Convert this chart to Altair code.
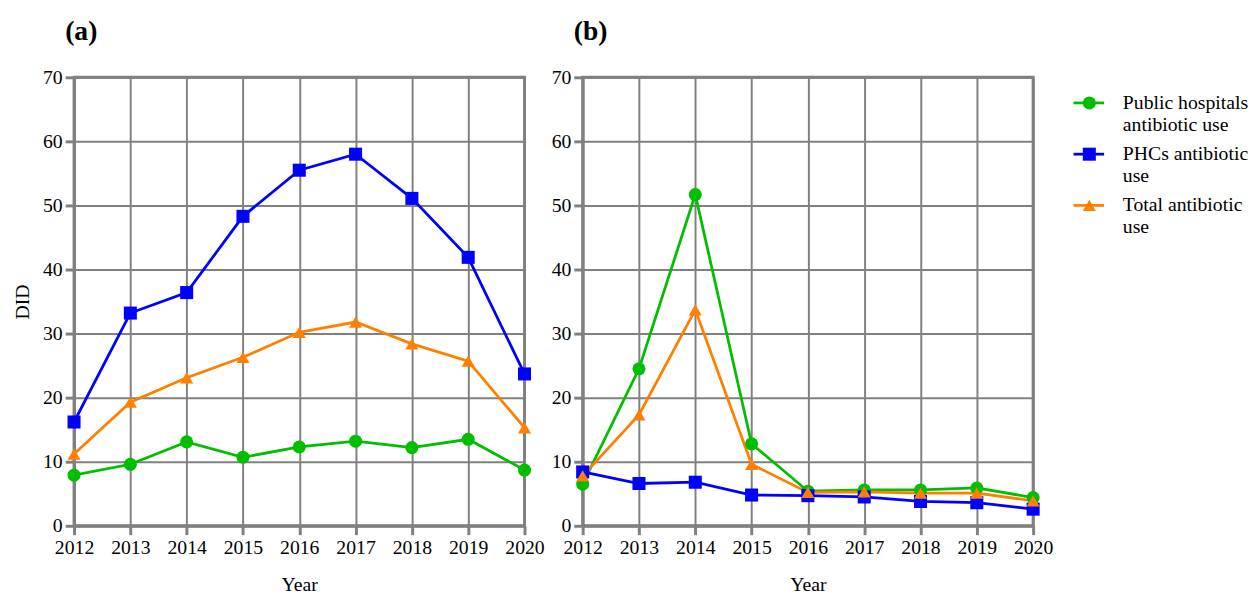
import altair as alt
import pandas as pd

years = [2012, 2013, 2014, 2015, 2016, 2017, 2018, 2019, 2020]
series_names = ["Public hospitals antibiotic use", "PHCs antibiotic use", "Total antibiotic use"]
legend_labels = ["Public hospitals\nantibiotic use", "PHCs antibiotic\nuse", "Total antibiotic\nuse"]
series_colors = ["#00BE00", "#0000FF", "#FF7F00"]
series_shapes = ["circle", "square", "triangle-up"]
y_ticks = [0, 10, 20, 30, 40, 50, 60, 70]

# Panel (a)
a_public = [7.9, 9.6, 13.1, 10.7, 12.3, 13.2, 12.2, 13.5, 8.7]
a_phc = [16.2, 33.2, 36.4, 48.3, 55.5, 58.0, 51.1, 41.9, 23.7]
a_total = [11.2, 19.3, 23.1, 26.3, 30.2, 31.8, 28.4, 25.7, 15.3]

# Panel (b)
b_public = [6.5, 24.5, 51.7, 12.8, 5.4, 5.6, 5.6, 5.9, 4.4]
b_phc = [8.4, 6.6, 6.8, 4.8, 4.7, 4.5, 3.8, 3.6, 2.6]
b_total = [7.8, 17.3, 33.7, 9.6, 5.2, 5.3, 5.1, 5.1, 3.9]

FONT = "Liberation Serif"
W, H = 457, 455

color = alt.Color("Series:N", scale=alt.Scale(domain=series_names, range=series_colors), legend=None)
shape = alt.Shape("Series:N", scale=alt.Scale(domain=series_names, range=series_shapes), legend=None)


def panel(pub, phc, tot, label, show_title):
    df = pd.DataFrame({
        "Year": years * 3,
        "DID": pub + phc + tot,
        "Series": [series_names[0]] * 9 + [series_names[1]] * 9 + [series_names[2]] * 9,
    })
    x = alt.X("Year:Q",
              scale=alt.Scale(domain=[2012, 2020], nice=False, zero=False),
              axis=alt.Axis(values=years, format="d", title="Year", titlePadding=18))
    yaxis_kwargs = dict(values=y_ticks)
    if show_title:
        yaxis_kwargs["title"] = "DID"
        yaxis_kwargs["titlePadding"] = 10
    else:
        yaxis_kwargs["title"] = ""
    y = alt.Y("DID:Q", scale=alt.Scale(domain=[0, 70], nice=False), axis=alt.Axis(**yaxis_kwargs))
    lines = alt.Chart(df).mark_line(strokeWidth=2.8).encode(x=x, y=y, color=color, detail="Series:N")
    points = alt.Chart(df).mark_point(filled=True, opacity=1, size=175).encode(
        x=x, y=y, color=color, shape=shape)
    return alt.layer(lines, points).properties(
        width=W, height=H,
        view=alt.ViewBackground(stroke="#808080", strokeWidth=3),
        title=alt.TitleParams(text=label, anchor="start", frame="group", dx=-9,
                              fontSize=28, font=FONT, fontWeight="bold", color="black", offset=22),
    )


pa = panel(a_public, a_phc, a_total, "(a)", True)
pb = panel(b_public, b_phc, b_total, "(b)", False)

leg_df = pd.DataFrame({"Series": series_names, "label": legend_labels})
ypos = alt.Y("Series:N", scale=alt.Scale(type="point", domain=series_names, range=[26, 130], padding=0),
             axis=None)
leg_rule = alt.Chart(leg_df).mark_rule(strokeWidth=2.8).encode(
    x=alt.value(-18), x2=alt.value(13), y=ypos, color=color)
leg_pts = alt.Chart(leg_df).mark_point(filled=True, opacity=1, size=175).encode(
    x=alt.value(-2), y=ypos, color=color, shape=shape)
leg_txt = alt.Chart(leg_df).mark_text(align="left", baseline="middle", lineBreak="\n", font=FONT,
                                      fontSize=20, lineHeight=22, color="black").encode(
    x=alt.value(32), y=ypos, text="label:N")
legend = alt.layer(leg_rule, leg_pts, leg_txt).properties(
    width=100, height=H, view=alt.ViewBackground(strokeWidth=0))

chart = alt.hconcat(pa, pb, legend, spacing=59, bounds="flush").properties(
    padding={"left": 3, "top": 4, "right": 0, "bottom": 0}
).configure_axis(
    gridColor="#808080", gridWidth=2, gridOpacity=1,
    domainColor="#808080", domainWidth=3,
    tickColor="#808080", tickWidth=3, tickSize=9,
    labelFont=FONT, labelFontSize=20, labelColor="black", labelPadding=3,
    labelFlush=False, labelOverlap=False,
    titleFont=FONT, titleFontSize=20, titleFontWeight="normal", titleColor="black",
).configure_view(strokeWidth=0)

chart.save("out.html", embed_options={"renderer": "svg", "actions": False})
